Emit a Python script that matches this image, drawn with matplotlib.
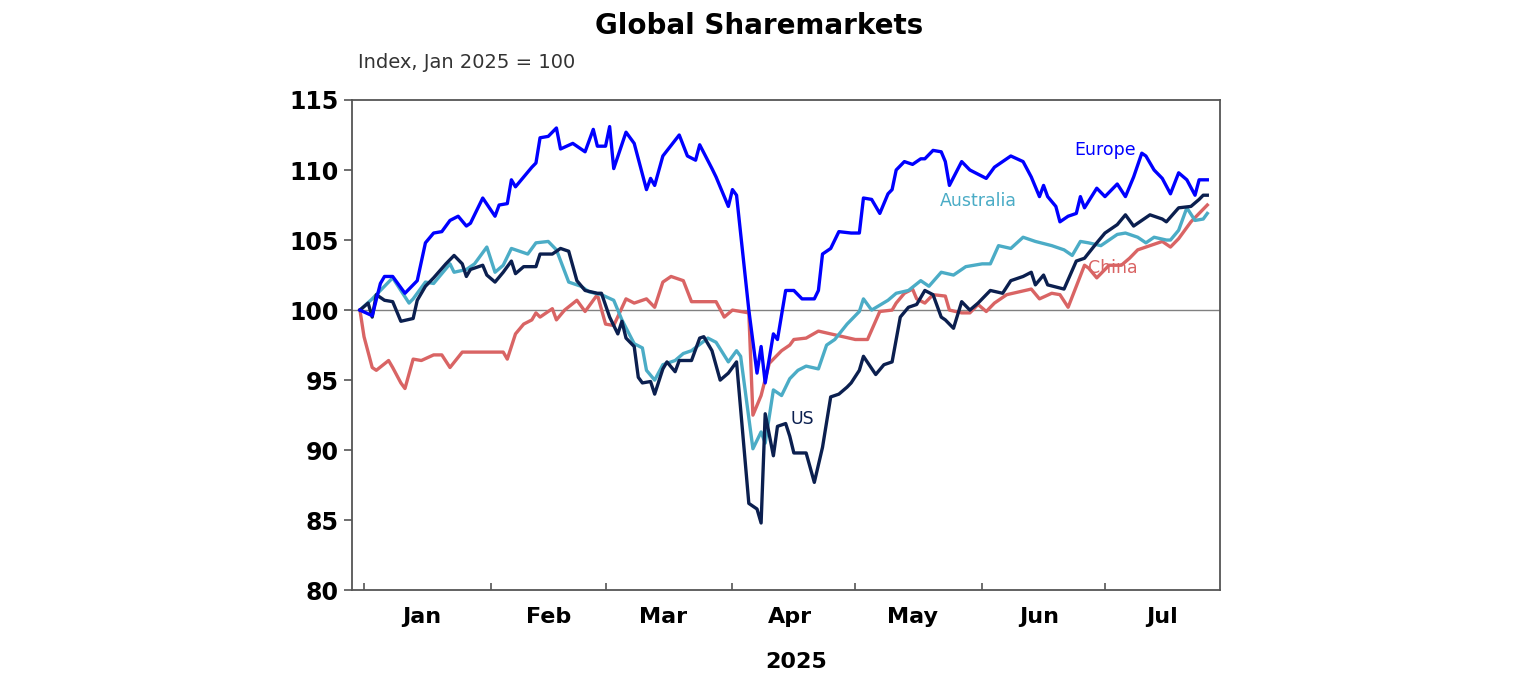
"""Global sharemarkets, index Jan 2025 = 100."""

import datetime as dt

import matplotlib

matplotlib.use("Agg")

import matplotlib.pyplot as plt

EUROPE_COLOR = "#0000FF"
US_COLOR = "#0B1F4F"
AUS_COLOR = "#4BACC6"
CHINA_COLOR = "#D96464"

# Day offsets from 1 Jan 2025 and index values.
europe_days = [-1, 2, 4, 5, 7, 10, 13, 15, 17, 19, 21, 23, 25, 26, 29, 32, 33, 35, 36, 37,
               41, 42, 43, 45, 47, 48, 51, 54, 56, 57, 59, 60, 61, 64, 66, 69, 70, 71, 73, 77,
               79, 81, 82, 85, 86, 89, 90, 91, 94, 96, 97, 98, 100, 101, 103, 105, 107, 110,
               111, 112, 114, 116, 119, 121, 122, 124, 126, 128, 129, 130, 132, 134, 136, 137,
               139, 141, 142, 143, 146, 148, 152, 154, 158, 161, 163, 165, 166, 167, 169, 170,
               172, 174, 175, 176, 179, 181, 184, 186, 188, 190, 191, 193, 195, 197, 199, 201,
               203, 204, 206]
europe = [100.0, 99.6, 101.9, 102.4, 102.4, 101.2, 102.1, 104.8, 105.5, 105.6, 106.4, 106.7,
          106.0, 106.2, 108.0, 106.7, 107.5, 107.6, 109.3, 108.8, 110.2, 110.5, 112.3, 112.4,
          113.0, 111.5, 111.9, 111.3, 112.9, 111.7, 111.7, 113.1, 110.1, 112.7, 111.9, 108.6,
          109.4, 108.9, 111.0, 112.5, 111.0, 110.7, 111.8, 110.1, 109.5, 107.4, 108.6, 108.2,
          100.0, 95.5, 97.4, 94.8, 98.3, 97.9, 101.4, 101.4, 100.8, 100.8, 101.4, 104.0, 104.4,
          105.6, 105.5, 105.5, 108.0, 107.9, 106.9, 108.3, 108.6, 110.0, 110.6, 110.4, 110.8,
          110.8, 111.4, 111.3, 110.6, 108.9, 110.6, 110.0, 109.4, 110.2, 111.0, 110.6, 109.5,
          108.1, 108.9, 108.1, 107.4, 106.3, 106.7, 106.9, 108.1, 107.3, 108.7, 108.1, 109.0,
          108.1, 109.5, 111.2, 111.0, 110.0, 109.4, 108.3, 109.8, 109.3, 108.2, 109.3, 109.3]

us_days = [-1, 1, 2, 3, 5, 7, 9, 12, 13, 15, 17, 20, 22, 24, 25, 26, 29, 30, 32, 34, 36, 37,
           39, 42, 43, 46, 48, 50, 52, 54, 57, 58, 60, 62, 63, 64, 66, 67, 68, 70, 71, 73, 74,
           76, 77, 80, 82, 83, 85, 87, 89, 91, 94, 96, 97, 98, 100, 101, 103, 104, 105, 108,
           110, 112, 114, 116, 118, 119, 121, 122, 125, 127, 129, 131, 133, 135, 137, 139, 141,
           142, 144, 146, 148, 150, 153, 156, 158, 161, 163, 164, 166, 167, 171, 174, 176, 179,
           181, 184, 186, 188, 190, 192, 195, 196, 199, 202, 204, 205, 206]
us = [100.0, 100.5, 99.5, 101.1, 100.7, 100.6, 99.2, 99.4, 100.7, 101.7, 102.3, 103.3, 103.9,
      103.3, 102.4, 102.9, 103.2, 102.5, 102.0, 102.7, 103.5, 102.6, 103.1, 103.1, 104.0, 104.0,
      104.4, 104.2, 102.1, 101.4, 101.2, 101.2, 99.5, 98.3, 99.2, 98.0, 97.4, 95.2, 94.8, 94.9,
      94.0, 95.8, 96.3, 95.6, 96.4, 96.4, 98.0, 98.1, 97.1, 95.0, 95.5, 96.3, 86.2, 85.8, 84.8,
      92.6, 89.6, 91.7, 91.9, 91.0, 89.8, 89.8, 87.7, 90.2, 93.8, 94.0, 94.5, 94.8, 95.7, 96.7,
      95.4, 96.1, 96.3, 99.5, 100.2, 100.4, 101.4, 101.1, 99.5, 99.3, 98.7, 100.6, 100.0, 100.5,
      101.4, 101.2, 102.1, 102.4, 102.7, 101.8, 102.5, 101.8, 101.5, 103.5, 103.7, 104.8, 105.5,
      106.1, 106.8, 106.0, 106.4, 106.8, 106.5, 106.3, 107.3, 107.4, 107.9, 108.2, 108.2]

aus_days = [-1, 2, 4, 7, 9, 11, 12, 15, 17, 21, 22, 25, 27, 30, 32, 34, 36, 40, 42, 45, 47,
            50, 53, 55, 58, 61, 63, 66, 68, 69, 71, 73, 76, 78, 80, 84, 86, 89, 91, 92, 95, 97,
            98, 100, 102, 104, 106, 108, 111, 113, 115, 118, 121, 122, 124, 128, 130, 133, 136,
            138, 141, 144, 147, 151, 153, 155, 158, 161, 164, 168, 171, 173, 175, 177, 180, 184,
            186, 189, 191, 193, 196, 197, 199, 201, 203, 205, 206]
australia = [100.0, 100.8, 101.4, 102.3, 101.4, 100.5, 100.8, 102.0, 101.9, 103.3, 102.7, 102.9,
             103.3, 104.5, 102.7, 103.2, 104.4, 104.0, 104.8, 104.9, 104.3, 102.0, 101.7, 101.3,
             101.1, 100.7, 99.3, 97.6, 97.3, 95.7, 95.0, 96.1, 96.4, 96.9, 97.1, 98.0, 97.7, 96.3,
             97.1, 96.7, 90.1, 91.3, 90.5, 94.3, 93.9, 95.1, 95.7, 96.0, 95.8, 97.5, 97.9, 99.0,
             99.9, 100.8, 100.0, 100.7, 101.2, 101.4, 102.1, 101.7, 102.7, 102.5, 103.1, 103.3,
             103.3, 104.6, 104.4, 105.2, 104.9, 104.6, 104.3, 103.9, 104.9, 104.8, 104.6, 105.4,
             105.5, 105.2, 104.8, 105.2, 105.0, 105.0, 105.7, 107.3, 106.4, 106.5, 106.9]

china_days = [-1, 0, 2, 3, 6, 7, 9, 10, 12, 14, 17, 19, 21, 24, 26, 30, 34, 35, 37, 39, 41, 42,
              43, 46, 47, 49, 52, 54, 57, 59, 61, 64, 66, 69, 71, 73, 75, 78, 80, 82, 86, 88, 90,
              94, 95, 97, 99, 102, 104, 105, 108, 111, 114, 117, 120, 123, 126, 129, 130, 132,
              134, 135, 137, 139, 142, 143, 146, 148, 150, 152, 154, 157, 160, 163, 165, 168, 170,
              172, 174, 176, 177, 179, 182, 185, 187, 189, 192, 195, 197, 199, 202, 204, 206]
china = [100.0, 98.1, 95.9, 95.7, 96.4, 95.9, 94.8, 94.4, 96.5, 96.4, 96.8, 96.8, 95.9, 97.0,
         97.0, 97.0, 97.0, 96.5, 98.3, 99.0, 99.3, 99.8, 99.5, 100.1, 99.3, 100.0, 100.7, 99.9,
         101.1, 99.0, 98.9, 100.8, 100.5, 100.8, 100.2, 102.0, 102.4, 102.1, 100.6, 100.6, 100.6,
         99.5, 100.0, 99.8, 92.5, 93.9, 96.2, 97.1, 97.5, 97.9, 98.0, 98.5, 98.3, 98.1, 97.9,
         97.9, 99.9, 100.0, 100.5, 101.2, 101.5, 100.8, 100.5, 101.1, 101.0, 100.0, 99.8, 99.8,
         100.4, 99.9, 100.5, 101.1, 101.3, 101.5, 100.8, 101.2, 101.1, 100.2, 101.7, 103.2, 103.0,
         102.3, 103.2, 103.2, 103.7, 104.3, 104.6, 104.9, 104.5, 105.1, 106.3, 106.9, 107.5]

month_labels = ["Jan", "Feb", "Mar", "Apr", "May", "Jun", "Jul"]
y_ticks = [80, 85, 90, 95, 100, 105, 110, 115]

START = dt.date(2025, 1, 1)


def to_dates(days):
    return [START + dt.timedelta(days=d) for d in days]


fig = plt.figure(figsize=(15.36, 6.8), dpi=100)
ax = fig.add_axes([0.229, 0.132, 0.565, 0.721])

ax.axhline(100, color="#808080", linewidth=1.0, zorder=1)
ax.plot(to_dates(china_days), china, color=CHINA_COLOR, linewidth=2.4, zorder=2)
ax.plot(to_dates(aus_days), australia, color=AUS_COLOR, linewidth=2.4, zorder=3)
ax.plot(to_dates(us_days), us, color=US_COLOR, linewidth=2.4, zorder=4)
ax.plot(to_dates(europe_days), europe, color=EUROPE_COLOR, linewidth=2.4, zorder=5)

ax.set_ylim(80, 115)
ax.set_yticks(y_ticks)
ax.set_yticklabels([str(v) for v in y_ticks], fontsize=17, fontweight="bold")
ax.tick_params(axis="y", direction="out", length=6, width=1.2, color="#555555")

month_starts = [dt.date(2025, m, 1) for m in range(1, 8)]
ax.set_xlim(START - dt.timedelta(days=3.4), START + dt.timedelta(days=209.8))
ax.set_xticks(month_starts)
ax.set_xticklabels([])
ax.tick_params(axis="x", direction="in", length=5, width=1.2, color="#555555")
ax.set_xticks([dt.date(2025, m, 15) for m in range(1, 8)], minor=True)
ax.set_xticklabels(month_labels, minor=True, fontsize=16, fontweight="bold")
ax.tick_params(axis="x", which="minor", length=0, pad=12)

for spine in ax.spines.values():
    spine.set_color("#555555")
    spine.set_linewidth(1.3)

ax.text(dt.date(2025, 7, 1), 111.4, "Europe", color=EUROPE_COLOR, fontsize=12.5,
        ha="center", va="center")
ax.text(dt.date(2025, 5, 31), 107.8, "Australia", color=AUS_COLOR, fontsize=12.5,
        ha="center", va="center")
ax.text(dt.date(2025, 7, 3), 103.0, "China", color=CHINA_COLOR, fontsize=12.5,
        ha="center", va="center")
ax.text(dt.date(2025, 4, 18), 92.2, "US", color=US_COLOR, fontsize=12.5,
        ha="center", va="center")

fig.text(0.494, 0.962, "Global Sharemarkets", ha="center", va="center",
         fontsize=20, fontweight="bold")
fig.text(0.233, 0.908, "Index, Jan 2025 = 100", ha="left", va="center",
         fontsize=14, color="#333333")
fig.text(0.518, 0.027, "2025", ha="center", va="center", fontsize=16, fontweight="bold")

fig.savefig("out.png", dpi=100, facecolor="white")
